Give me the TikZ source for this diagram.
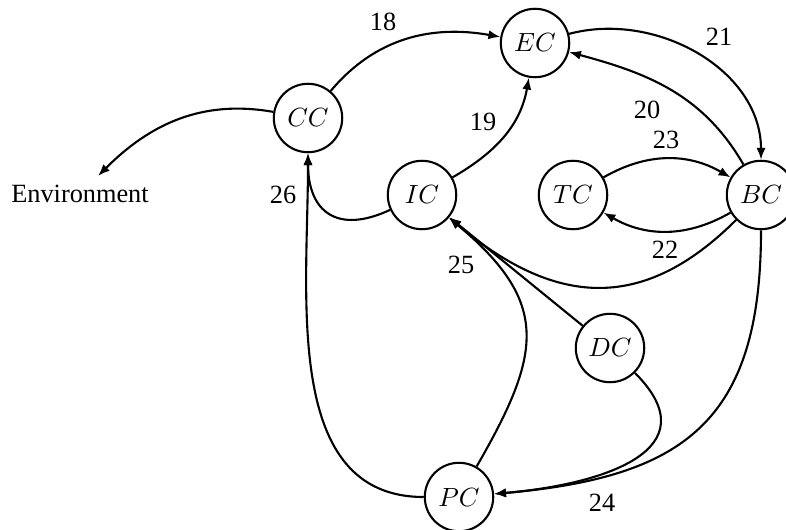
\documentclass[tikz,border=0pt]{standalone}
\usepackage{fontspec}
\setmainfont{Liberation Serif}
\usetikzlibrary{arrows.meta}

\begin{document}
\begin{tikzpicture}[x=38pt, y=38pt, inner sep=0mm,
		nodestyle/.style={draw, circle, thick, minimum size=26pt},
		edgestyle/.style={thick, -{Latex[length=4.5pt, width=3.5pt]}}]

		\useasboundingbox (0,0) rectangle (7.86,5.29);

		\node [nodestyle] (cc) at (3.08,4.11) {$CC$};
		\node [nodestyle] (ec) at (5.35,4.86) {$EC$};
		\node [nodestyle] (ic) at (4.22,3.34) {$IC$};
		\node [nodestyle] (tc) at (5.73,3.34) {$TC$};
		\node [nodestyle] (bc) at (7.61,3.34) {$BC$};
		\node [nodestyle] (dc) at (6.10,1.81) {$DC$};
		\node [nodestyle] (pc) at (4.59,0.32) {$PC$};
		\node [inner sep=3.3pt] (env) at (0.80,3.35) {Environment};

		% edge labels
		\node (l18) at (3.83,5.07) {18};
		\node (l19) at (4.83,4.07) {19};
		\node (l20) at (6.47,4.19) {20};
		\node (l21) at (7.19,4.92) {21};
		\node (l22) at (6.65,2.79) {22};
		\node (l23) at (6.66,3.89) {23};
		\node (l24) at (6.02,0.26) {24};
		\node (l25) at (4.61,2.64) {25};
		\node (l26) at (2.83,3.34) {26};

		\draw [edgestyle, {Latex[length=4.5pt, width=3.5pt]}-] (env) to [out=45, in=170] (cc);
		\draw [edgestyle] (cc) to [out=50, in=170] (ec);
		\draw [edgestyle] (ic) to [out=30, in=-100] (ec);
		\draw [edgestyle] (ec) to [out=15, in=90] (bc);
		\draw [edgestyle] (bc) to [out=120, in=-15] (ec);
		\draw [edgestyle] (tc) to [out=30, in=150] (bc);
		\draw [edgestyle] (bc) to [out=-150, in=-30] (tc);
		\draw [edgestyle] (bc) to [out=-135, in=-40, looseness=1.2] (ic);
		\draw [edgestyle] (dc) -- (ic);
		\draw [edgestyle] (pc) to [out=60, in=-40, looseness=1.35] (ic);
		\draw [edgestyle] (ic) to [out=205, in=-90, looseness=1.5] (cc);
		\draw [edgestyle] (pc) to [out=180, in=-90] (cc);
		\draw [edgestyle] (bc) to [out=-90, in=5, looseness=1.3] (pc);
		\draw [edgestyle] (dc) to [out=-45, in=5, looseness=1.5] (pc);
\end{tikzpicture}
\end{document}
